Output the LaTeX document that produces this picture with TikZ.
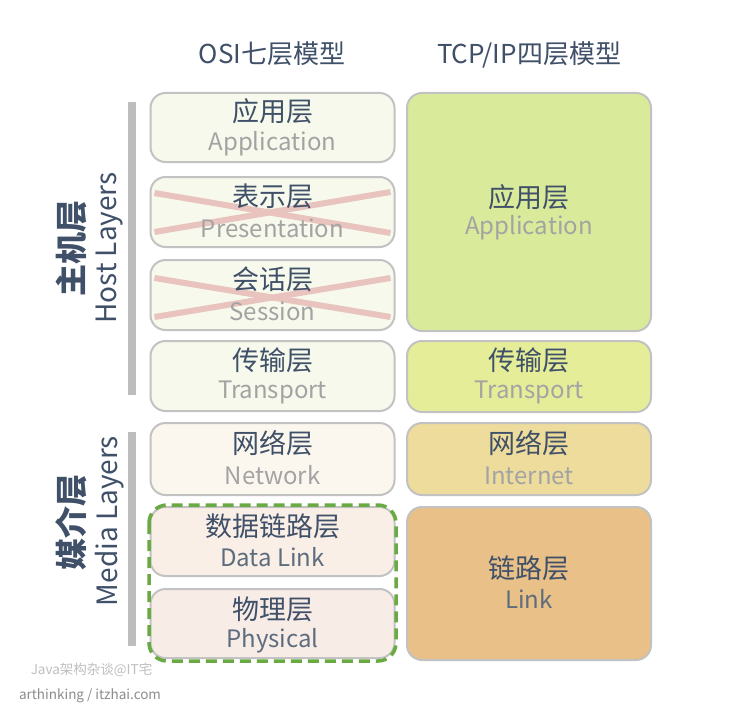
\documentclass[tikz,border=0pt]{standalone}
\usepackage{fontspec}
\setmainfont{Noto Sans CJK SC}
\definecolor{dark}{HTML}{3F5068}
\definecolor{engray}{HTML}{A3A3A3}
\definecolor{endark}{HTML}{5E6D7E}
\definecolor{boxgray}{HTML}{C2C2C2}
\definecolor{osiA}{HTML}{F6F9EB}
\definecolor{osiN}{HTML}{FBF7EE}
\definecolor{osiD}{HTML}{F9EFE7}
\definecolor{osiP}{HTML}{F8ECE7}
\definecolor{tcpA}{HTML}{D9EA9B}
\definecolor{tcpT}{HTML}{E5ED99}
\definecolor{tcpN}{HTML}{EEDC9C}
\definecolor{tcpL}{HTML}{E8C088}
\definecolor{crossc}{HTML}{E9C3BD}
\definecolor{barc}{HTML}{BDBDBD}
\definecolor{greenc}{HTML}{6AAA43}
\begin{document}
\begin{tikzpicture}[x=1bp,y=-1bp,
  layerbox/.style={draw=boxgray,line width=2bp,rounded corners=15bp,rectangle,inner sep=0pt,minimum width=244bp},
  cjk/.style={text=dark,font=\fontsize{27bp}{30bp}\selectfont,inner sep=0pt},
  eng/.style={text=engray,font=\fontsize{24bp}{28bp}\selectfont,inner sep=0pt},
  engd/.style={text=endark,font=\fontsize{24bp}{28bp}\selectfont,inner sep=0pt},
  header/.style={text=dark,font=\fontsize{26bp}{28bp}\selectfont,inner sep=0pt},
  side/.style={text=dark,font=\fontsize{28bp}{30bp}\selectfont,inner sep=0pt,rotate=90},
  sideb/.style={text=dark,font=\fontsize{32bp}{34bp}\selectfont\bfseries,inner sep=0pt,rotate=90},
  bar/.style={fill=barc,draw=none,rectangle,inner sep=0pt,minimum width=8bp},
  cross/.style={draw=crossc,line width=6bp},
  wm/.style={inner sep=0pt}
]
\useasboundingbox (0,0) rectangle (730,708);
\fill[white] (0,0) rectangle (730,708);

% headers
\node[header] (h1) at (272,54) {OSI七层模型};
\node[header] (h2) at (529,55) {TCP/IP四层模型};

% OSI boxes
\node[layerbox,fill=osiA,minimum height=69bp] (oa) at (272.5,127.5) {};
\node[layerbox,fill=osiA,minimum height=70bp] (op) at (272.5,212) {};
\node[layerbox,fill=osiA,minimum height=70bp] (os) at (272.5,295) {};
\node[layerbox,fill=osiA,minimum height=70bp] (ot) at (272.5,376) {};
\node[layerbox,fill=osiN,minimum height=72bp] (on) at (272.5,459) {};
\node[layerbox,fill=osiD,minimum height=69bp] (od) at (272.5,541.5) {};
\node[layerbox,fill=osiP,minimum height=69bp] (oph) at (272.5,623.5) {};

% crosses
\draw[cross] ([shift={(5,-19)}]op.west) -- ([shift={(-5,21)}]op.east);
\draw[cross] ([shift={(5,20)}]op.west) -- ([shift={(-5,-20)}]op.east);
\draw[cross] ([shift={(5,-17)}]os.west) -- ([shift={(-5,22)}]os.east);
\draw[cross] ([shift={(5,22)}]os.west) -- ([shift={(-5,-17)}]os.east);

% OSI texts
\node[cjk] (oa1) at ([yshift=16]oa.center) {应用层};
\node[eng] (oa2) at ([yshift=-16.5]oa.center) {Application};
\node[cjk] (op1) at ([yshift=16]op.center) {表示层};
\node[eng] (op2) at ([yshift=-16.5]op.center) {Presentation};
\node[cjk] (os1) at ([yshift=16]os.center) {会话层};
\node[eng] (os2) at ([yshift=-16.5]os.center) {Session};
\node[cjk] (ot1) at ([yshift=16]ot.center) {传输层};
\node[eng] (ot2) at ([yshift=-16.5]ot.center) {Transport};
\node[cjk] (on1) at ([yshift=16]on.center) {网络层};
\node[eng] (on2) at ([yshift=-16.5]on.center) {Network};
\node[cjk] (od1) at ([yshift=15]od.center) {数据链路层};
\node[engd] (od2) at ([yshift=-16]od.center) {Data Link};
\node[cjk] (oph1) at ([yshift=14]oph.center) {物理层};
\node[engd] (oph2) at ([yshift=-17]oph.center) {Physical};

% dashed green outline
\draw[greenc,line width=3.5bp,dash pattern=on 11bp off 6bp,rounded corners=18bp] (149,505) rectangle (396,661);

% TCP/IP boxes
\node[layerbox,fill=tcpA,minimum height=238bp] (ta) at (529,212) {};
\node[layerbox,fill=tcpT,minimum height=71bp] (tt) at (529,376.5) {};
\node[layerbox,fill=tcpN,minimum height=72bp] (tn) at (529,459) {};
\node[layerbox,fill=tcpL,minimum height=153bp] (tl) at (529,583.5) {};

\node[cjk] (ta1) at ([yshift=15]ta.center) {应用层};
\node[eng] (ta2) at ([yshift=-16]ta.center) {Application};
\node[cjk] (tt1) at ([yshift=16]tt.center) {传输层};
\node[eng] (tt2) at ([yshift=-16.5]tt.center) {Transport};
\node[cjk] (tn1) at ([yshift=16]tn.center) {网络层};
\node[eng] (tn2) at ([yshift=-16.5]tn.center) {Internet};
\node[cjk] (tl1) at ([yshift=15]tl.center) {链路层};
\node[engd] (tl2) at ([yshift=-16]tl.center) {Link};

% side bars
\node[bar,minimum height=293bp] (b1) at (132,248.5) {};
\node[bar,minimum height=214bp] (b2) at (132,539) {};
\node[sideb] (s1) at (71,248) {主机层};
\node[side] (s2) at (110,248) {Host Layers};
\node[sideb] (s3) at (71,522) {媒介层};
\node[side] (s4) at (110,521) {Media Layers};

% watermark
\node[wm,text=black!25,font=\fontsize{13.5bp}{15bp}\selectfont] (w1) at (91.5,670) {Java架构杂谈@IT宅};
\node[wm,text=black!45,font=\fontsize{13.5bp}{16bp}\selectfont] (w2) at (90,696) {arthinking / itzhai.com};
\end{tikzpicture}
\end{document}
